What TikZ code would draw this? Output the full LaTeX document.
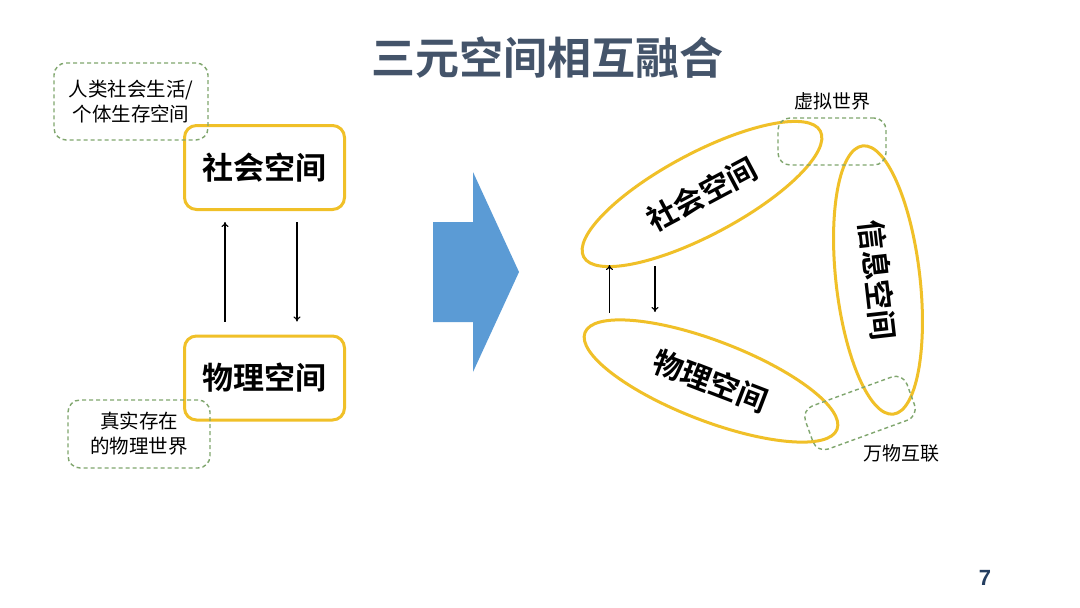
\documentclass[tikz,border=0pt]{standalone}
\usepackage{fontspec}
\setmainfont{Noto Sans CJK SC}[BoldFont={Noto Sans CJK SC Bold}]
\newfontfamily\numfont{Liberation Sans}
\usetikzlibrary{shapes.geometric,arrows.meta}
\definecolor{gold}{RGB}{240,192,40}
\definecolor{dgreen}{RGB}{128,166,110}
\definecolor{titlec}{RGB}{68,84,106}
\definecolor{bluea}{RGB}{91,155,213}
\definecolor{numc}{RGB}{36,62,96}
\tikzset{
  ybox/.style={draw=gold, line width=3pt, rounded corners=12pt, minimum width=160pt, minimum height=84pt, font=\fontsize{31}{36}\selectfont\bfseries},
  yell/.style={draw=gold, line width=3pt, ellipse, inner sep=0pt, font=\fontsize{30}{34}\selectfont\bfseries},
  gbox/.style={draw=dgreen, line width=1.4pt, dash pattern=on 4pt off 3pt, rounded corners=12pt, align=center, inner sep=0pt, font=\fontsize{19.5}{25}\selectfont},
  lbl/.style={font=\fontsize{19}{23}\selectfont, inner sep=0pt},
  arr/.style={line width=1.1pt, -{To[length=5pt,width=7pt]}}
}
\begin{document}
\begin{tikzpicture}[x=1pt,y=-1pt]
\useasboundingbox[fill=white] (0,0) rectangle (1080,608);
% title
\node[font=\fontsize{44}{50}\selectfont\bfseries, text=titlec] (title) at (547,58) {三元空间相互融合};
% left side
\node[ybox] (soc) at (264.5,167.5) {社会空间};
\node[ybox] (phys) at (264.5,378) {物理空间};
\node[gbox, minimum width=154pt, minimum height=77pt] (life) at (131,101.5) {人类社会生活/\\个体生存空间};
\node[gbox, minimum width=142pt, minimum height=68pt] (real) at (139,434) {真实存在\\的物理世界};
\draw[arr] ([xshift=-39.5pt,yshift=13pt]phys.north) -- ([xshift=-39.5pt,yshift=-11pt]soc.south);
\draw[arr] ([xshift=32.5pt,yshift=-11pt]soc.south) -- ([xshift=32.5pt,yshift=13pt]phys.north);
% big arrow
\fill[bluea] (433,222) -- (473,222) -- (473,172) -- (519,272) -- (473,372) -- (473,322) -- (433,322) -- cycle;
% right side
\node[yell, minimum width=268pt, minimum height=82pt, rotate=28] (soc2) at (702,194) {社会空间};
\node[yell, minimum width=270pt, minimum height=80pt, rotate=-21] (phys2) at (711,381) {物理空间};
\node[yell, minimum width=270pt, minimum height=84pt, rotate=-83.5] (info2) at (878,280) {信息空间};
\node[gbox, minimum width=108pt, minimum height=47pt] (virt) at (832,141.5) {};
\node[lbl] (virtl) at (832,101) {虚拟世界};
\node[gbox, minimum width=108pt, minimum height=46pt, rotate=20] (iot) at (860,413) {};
\node[lbl] (iotl) at (901,453) {万物互联};
\coordinate (u1) at (609.5,313);
\coordinate (u2) at (609.5,265);
\coordinate (d1) at (655,266);
\coordinate (d2) at (655,312);
\draw[arr] (u1) -- (u2);
\draw[arr] (d1) -- (d2);
% page number
\node[font=\numfont\fontsize{22}{26}\selectfont\bfseries, text=numc] (pnum) at (985,578) {7};
\end{tikzpicture}
\end{document}
